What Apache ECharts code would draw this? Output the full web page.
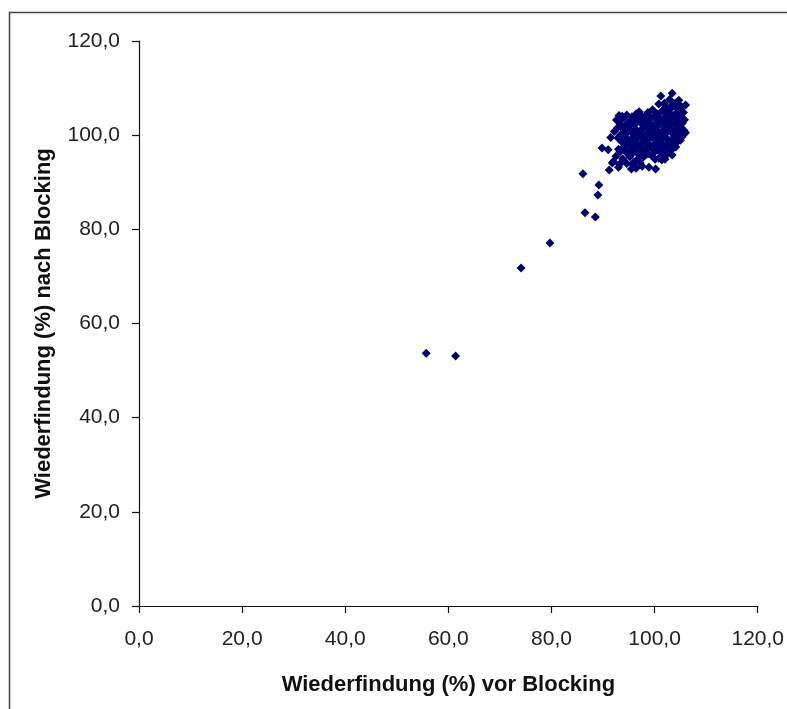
<!DOCTYPE html>
<html>
<head>
<meta charset="utf-8">
<script src="https://cdn.jsdelivr.net/npm/echarts@6/dist/echarts.min.js"></script>
<style>html,body{margin:0;padding:0;background:#fff}#c{width:787px;height:709px}</style>
</head>
<body>
<div id="c"></div>
<script>
const xTitle = 'Wiederfindung (%) vor Blocking';
const yTitle = 'Wiederfindung (%) nach Blocking';
const axisMin = 0, axisMax = 120, axisStep = 20;

const outlierPoints = [
  [55.7,53.7],[61.4,53.1],[74.1,71.8],[79.7,77.1],[86.1,91.8],[89.2,89.4],[89.0,87.3],[86.5,83.5],[88.5,82.6]
];

const clusterPoints = [
  [103.4,108.9],[101.2,108.3],[104.7,107.4],[102.9,107.6],[106.0,106.4],[103.8,106.7],[100.8,106.6],[105.2,106.0],[102.2,106.1],
  [99.6,105.4],[101.5,105.2],[103.0,105.5],[104.5,105.0],[105.6,104.8],[98.7,104.8],[100.4,104.6],[102.4,104.4],[96.4,104.5],[93.1,104.2],[94.6,104.3],[97.5,104.1],[103.6,104.2],[105.0,103.9],[101.0,103.8],
  [92.6,103.2],[94.0,103.6],[95.3,103.0],[96.8,103.4],[98.1,103.2],[99.3,103.7],[100.5,103.1],[101.8,103.5],[102.9,102.9],[104.2,103.1],[105.4,102.6],[93.4,102.2],[94.8,102.5],[96.0,102.1],[97.3,102.6],[98.6,102.3],[99.8,102.0],[101.1,102.5],[102.3,102.1],[103.5,102.4],[104.7,102.0],[92.8,101.6],
  [93.9,101.3],[95.2,101.7],[96.5,101.1],[97.8,101.5],[99.1,101.2],[100.3,101.6],[101.6,101.0],[102.9,101.4],[104.1,101.1],[105.2,101.5],[94.5,100.5],[95.8,100.2],[97.1,100.7],[98.4,100.3],[99.7,100.6],[101.0,100.1],[102.3,100.5],[103.6,100.2],[104.8,100.6],[92.2,100.8],[106.0,100.5],
  [92.9,99.4],[94.2,99.8],[95.6,99.3],[96.9,99.7],[98.2,99.1],[99.5,99.5],[100.8,99.0],[102.1,99.6],[103.4,99.2],[104.6,99.4],[105.3,99.6],[93.6,98.6],[95.0,98.2],[96.3,98.8],[97.6,98.4],[99.0,98.0],[100.3,98.5],[101.6,98.1],[102.9,98.6],[104.1,98.3],[91.5,99.5],
  [94.0,97.5],[95.4,97.1],[96.7,97.6],[98.0,97.0],[99.3,97.4],[100.6,96.9],[102.0,97.3],[103.2,96.8],[104.1,97.5],[93.3,96.5],[94.7,96.1],[96.1,96.6],[97.4,96.2],[98.7,96.0],[101.3,96.3],[102.5,96.0],[89.8,97.3],[91.0,96.9],
  [92.5,95.5],[93.8,95.0],[95.2,95.4],[96.6,94.8],[97.8,95.3],[99.5,95.6],[100.8,95.1],[102.0,94.9],[103.4,95.8],[92.0,94.4],[93.2,93.8],[94.6,94.0],[95.9,93.6],[97.2,94.1],[98.9,93.2],[100.2,92.8],[101.4,94.7],[91.8,94.1],[91.2,92.6],[96.4,93.0],[95.5,92.8],[93.0,93.2],
  [104.2,105.8],[102.7,104.9],[100.0,104.0],[98.0,103.8],[95.6,103.9],[93.7,104.0],[97.0,105.0],[101.9,106.8],[104.9,106.3],[103.1,106.0],
  [99.0,102.7],[97.9,102.0],[95.9,102.9],[94.3,102.0],[100.9,102.8],[103.0,103.6],[104.8,103.3],[102.0,102.8],[105.8,103.3],[93.1,102.8],
  [94.9,101.0],[96.0,100.9],[98.9,101.8],[100.7,100.8],[102.0,101.6],[103.4,100.9],[104.5,101.7],[105.7,101.0],[97.5,100.0],[99.3,100.0],
  [93.4,100.1],[94.8,99.1],[96.1,99.6],[97.9,98.9],[100.2,99.8],[101.4,99.3],[102.6,99.0],[104.0,99.9],[105.0,98.9],[98.7,99.2],
  [94.4,98.0],[95.8,97.9],[97.1,97.4],[98.6,97.6],[100.0,97.8],[101.1,97.6],[102.4,98.0],[103.7,97.9],[99.9,96.3],[103.0,97.5],
  [93.0,97.0],[94.2,96.7],[95.5,96.0],[97.0,95.8],[98.3,96.7],[100.1,94.9],[101.7,95.6],[94.0,94.6],[96.0,94.3],[97.6,93.4]
];

const allPoints = outlierPoints.concat(clusterPoints);
const fmt = v => v.toFixed(1).replace('.', ',');

const chart = echarts.init(document.getElementById('c'), null, {renderer: 'canvas'});
const axisCommon = {
  type: 'value', min: axisMin, max: axisMax, interval: axisStep,
  nameLocation: 'middle',
  nameTextStyle: {fontFamily: 'Liberation Sans', fontWeight: 'bold', fontSize: 22, color: '#111'},
  axisLine: {show: true, lineStyle: {color: '#111', width: 1.2}},
  axisTick: {show: true, inside: false, length: 7, lineStyle: {color: '#111', width: 1.2}},
  axisLabel: {formatter: fmt, fontFamily: 'Liberation Sans', fontSize: 21, color: '#222'},
  splitLine: {show: false}
};
chart.setOption({
  animation: false,
  backgroundColor: '#fff',
  grid: {left: 139, right: 28, top: 41, bottom: 103, containLabel: false},
  xAxis: Object.assign({}, axisCommon, {name: xTitle, nameGap: 68, axisLabel: Object.assign({}, axisCommon.axisLabel, {margin: 23})}),
  yAxis: Object.assign({}, axisCommon, {name: yTitle, nameGap: 84, axisLabel: Object.assign({}, axisCommon.axisLabel, {margin: 19})}),
  graphic: [{
    type: 'rect', left: 7, top: 10, shape: {width: 900, height: 900},
    style: {fill: 'none', stroke: '#444', lineWidth: 1.5}, silent: true, z: -1
  }],
  series: [{
    type: 'scatter', data: allPoints, symbol: 'diamond', symbolSize: 9,
    itemStyle: {color: '#000070', opacity: 1}
  }]
});
</script>
</body>
</html>
